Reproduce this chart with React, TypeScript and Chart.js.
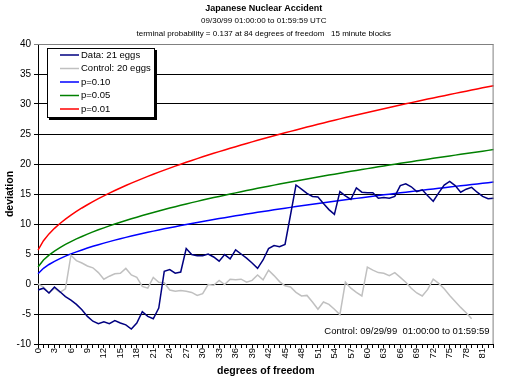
import React, { useEffect, useRef } from 'react';
import { Chart, registerables } from 'chart.js';

Chart.register(...registerables);

const TITLE = 'Japanese Nuclear Accident';
const SUBTITLE_1 = '09/30/99 01:00:00 to 01:59:59 UTC';
const SUBTITLE_2 = 'terminal probability = 0.137 at 84 degrees of freedom   15 minute blocks';
const X_TITLE = 'degrees of freedom';
const Y_TITLE = 'deviation';
const NOTE = 'Control: 09/29/99  01:00:00 to 01:59:59';

const degrees = [
  '0','1','2','3','4','5','6','7','8','9','10','11','12','13','14','15','16','17','18','19',
  '20','21','22','23','24','25','26','27','28','29','30','31','32','33','34','35','36','37','38','39',
  '40','41','42','43','44','45','46','47','48','49','50','51','52','53','54','55','56','57','58','59',
  '60','61','62','63','64','65','66','67','68','69','70','71','72','73','74','75','76','77','78','79',
  '80','81','82','83',
];

const xTickLabels = ['0','3','6','9','12','15','18','21','24','27','30','33','36','39','42','45','48','51','54','57','60','63','66','69','72','75','78','81'];

const dataSeries = [
  -1.0, -0.7, -1.5, -0.5, -1.3, -2.1, -2.7, -3.4, -4.3, -5.4,
  -6.2, -6.6, -6.3, -6.6, -6.1, -6.5, -6.8, -7.5, -6.5, -4.6,
  -5.4, -5.8, -4.0, 2.1, 2.4, 1.8, 2.0, 5.9, 4.9, 4.7,
  4.7, 5.0, 4.5, 3.8, 4.9, 4.2, 5.7, 5.0, 4.3, 3.5,
  2.6, 4.0, 5.9, 6.4, 6.2, 6.6, 11.5, 16.5, 15.8, 15.1,
  14.6, 14.5, 13.4, 12.4, 11.6, 15.4, 14.7, 14.1, 16.0, 15.3,
  15.2, 15.2, 14.3, 14.4, 14.3, 14.6, 16.4, 16.7, 16.2, 15.4,
  15.7, 14.7, 13.8, 15.2, 16.5, 17.1, 16.4, 15.3, 15.8, 16.1,
  15.3, 14.6, 14.2, 14.3,
];

const controlSeries = [
  0.0, -0.5, -1.5, -0.7, -1.4, -0.8, 4.8, 3.9, 3.5, 3.0,
  2.7, 1.9, 0.8, 1.3, 1.7, 1.8, 2.6, 1.5, 1.1, -0.4,
  -0.7, 1.1, 0.3, 0.2, -1.0, -1.2, -1.1, -1.2, -1.4, -1.9,
  -1.6, -0.1, -0.2, 0.6, -0.1, 0.8, 0.7, 0.8, 0.3, 0.6,
  1.5, 0.7, 2.3, 1.4, 0.4, -0.3, -0.5, -1.4, -2.0, -1.9,
  -3.0, -4.2, -3.0, -3.4, -4.2, -5.1, 0.3, -0.7, -1.4, -2.0,
  2.8, 2.3, 1.9, 1.8, 1.4, 1.9, 1.1, 0.3, -0.7, -1.5,
  -2.0, -0.9, 0.8, 0.1, -0.8, -1.9, -2.9, -3.9, -4.8, -5.8,
  null, null, null, null,
];

const p10 = [
  1.71, 2.61, 3.25, 3.78, 4.24, 4.65, 5.02, 5.36, 5.68, 5.99,
  6.28, 6.55, 6.81, 7.06, 7.31, 7.54, 7.77, 7.99, 8.20, 8.41,
  8.62, 8.81, 9.01, 9.20, 9.38, 9.56, 9.74, 9.92, 10.09, 10.26,
  10.41, 10.58, 10.74, 10.90, 11.05, 11.21, 11.36, 11.51, 11.65, 11.80,
  11.94, 12.08, 12.22, 12.36, 12.50, 12.63, 12.77, 12.90, 13.03, 13.16,
  13.29, 13.42, 13.54, 13.67, 13.79, 13.91, 14.03, 14.16, 14.27, 14.39,
  14.51, 14.63, 14.74, 14.86, 14.97, 15.08, 15.19, 15.30, 15.41, 15.52,
  15.63, 15.74, 15.85, 15.95, 16.06, 16.16, 16.27, 16.37, 16.47, 16.57,
  16.68, 16.78, 16.88, 16.98,
];

const p05 = [
  2.84, 3.99, 4.82, 5.49, 6.07, 6.59, 7.07, 7.51, 7.92, 8.31,
  8.68, 9.03, 9.36, 9.69, 10.00, 10.30, 10.59, 10.87, 11.14, 11.41,
  11.67, 11.92, 12.17, 12.42, 12.65, 12.89, 13.11, 13.34, 13.56, 13.77,
  13.99, 14.20, 14.40, 14.60, 14.80, 15.00, 15.19, 15.38, 15.57, 15.76,
  15.94, 16.12, 16.30, 16.48, 16.66, 16.83, 17.00, 17.17, 17.34, 17.51,
  17.67, 17.83, 17.99, 18.15, 18.31, 18.47, 18.62, 18.78, 18.93, 19.08,
  19.23, 19.38, 19.53, 19.68, 19.82, 19.97, 20.11, 20.25, 20.39, 20.53,
  20.67, 20.81, 20.95, 21.08, 21.22, 21.35, 21.48, 21.62, 21.75, 21.88,
  22.01, 22.14, 22.27, 22.40,
];

const p01 = [
  5.64, 7.21, 8.35, 9.28, 10.09, 10.81, 11.48, 12.09, 12.67, 13.21,
  13.73, 14.22, 14.69, 15.14, 15.58, 16.00, 16.41, 16.81, 17.19, 17.57,
  17.93, 18.29, 18.64, 18.98, 19.31, 19.64, 19.96, 20.28, 20.59, 20.89,
  21.20, 21.50, 21.78, 22.06, 22.34, 22.62, 22.89, 23.16, 23.43, 23.69,
  23.95, 24.21, 24.46, 24.71, 24.96, 25.20, 25.44, 25.68, 25.92, 26.15,
  26.39, 26.62, 26.85, 27.07, 27.29, 27.52, 27.74, 27.95, 28.17, 28.38,
  28.59, 28.80, 29.01, 29.22, 29.42, 29.63, 29.83, 30.03, 30.23, 30.43,
  30.62, 30.82, 31.01, 31.20, 31.39, 31.58, 31.77, 31.96, 32.14, 32.33,
  32.51, 32.69, 32.87, 33.05,
];

const FONT = 'Arial, "Liberation Sans", sans-serif';

const overlayPlugin = {
  id: 'overlay',
  afterDraw(chart: any) {
    const { ctx, chartArea } = chart;
    const cx = (chartArea.left + chartArea.right) / 2 - 2;
    ctx.save();
    ctx.fillStyle = '#000';
    ctx.textAlign = 'center';
    ctx.textBaseline = 'middle';
    ctx.font = `bold 9px ${FONT}`;
    ctx.fillText(TITLE, cx, 9);
    ctx.font = `8px ${FONT}`;
    ctx.fillText(SUBTITLE_1, cx, 21);
    ctx.fillText(SUBTITLE_2, cx, 34);

    ctx.font = `bold 10.5px ${FONT}`;
    ctx.fillText(X_TITLE, cx + 2, 371);
    ctx.save();
    ctx.translate(10, (chartArea.top + chartArea.bottom) / 2);
    ctx.rotate(-Math.PI / 2);
    ctx.fillText(Y_TITLE, 0, 0);
    ctx.restore();

    // plot border (top/right)
    ctx.strokeStyle = '#808080';
    ctx.lineWidth = 1;
    ctx.beginPath();
    ctx.moveTo(chartArea.left, chartArea.top + 0.5);
    ctx.lineTo(chartArea.right - 0.5, chartArea.top + 0.5);
    ctx.lineTo(chartArea.right - 0.5, chartArea.bottom);
    ctx.stroke();

    // note
    ctx.textAlign = 'right';
    ctx.font = `9.5px ${FONT}`;
    ctx.fillText(NOTE, chartArea.right - 4, chartArea.bottom - 13);

    // legend
    const lx = 47, ly = 48, lw = 108, lh = 70;
    ctx.fillStyle = '#000';
    ctx.fillRect(lx + 2, ly + 2, lw, lh);
    ctx.fillStyle = '#fff';
    ctx.fillRect(lx, ly, lw, lh);
    ctx.strokeStyle = '#000';
    ctx.strokeRect(lx + 0.5, ly + 0.5, lw - 1, lh - 1);
    ctx.textAlign = 'left';
    ctx.font = `9.5px ${FONT}`;
    chart.data.datasets.forEach((ds: any, i: number) => {
      const y = ly + 7 + i * 13.5;
      ctx.strokeStyle = ds.borderColor;
      ctx.lineWidth = 1.5;
      ctx.beginPath();
      ctx.moveTo(60, y);
      ctx.lineTo(79, y);
      ctx.stroke();
      ctx.fillStyle = '#000';
      ctx.fillText(ds.label, 81, y);
    });
    ctx.restore();
  },
};

export default function App() {
  const ref = useRef<HTMLCanvasElement>(null);
  useEffect(() => {
    if (!ref.current) return;
    const mk = (label: string, data: any[], color: string) => ({
      label,
      data,
      borderColor: color,
      backgroundColor: color,
      borderWidth: 1.5,
      pointRadius: 0,
      tension: 0,
      fill: false,
    });
    const chart = new Chart(ref.current, {
      type: 'line',
      data: {
        labels: degrees,
        datasets: [
          mk('Data: 21 eggs', dataSeries, '#000080'),
          mk('Control: 20 eggs', controlSeries, '#c0c0c0'),
          mk('p=0.10', p10, '#0000ff'),
          mk('p=0.05', p05, '#008000'),
          mk('p=0.01', p01, '#ff0000'),
        ],
      },
      options: {
        responsive: false,
        animation: false,
        devicePixelRatio: 1,
        layout: { padding: { top: 44, right: 2, left: 0, bottom: 0 } },
        plugins: { legend: { display: false }, title: { display: false }, tooltip: { enabled: false } },
        scales: {
          x: {
            type: 'category',
            offset: false,
            grid: { display: true, drawOnChartArea: false, drawTicks: true, tickLength: 4, color: '#000' },
            border: { color: '#000', width: 1 },
            ticks: {
              autoSkip: false,
              minRotation: 90,
              maxRotation: 90,
              padding: 0,
              color: '#000',
              font: { family: FONT, size: 9.5 },
              callback: (_v: any, idx: number) => (xTickLabels.includes(degrees[idx]) ? degrees[idx] : ''),
            },
            afterFit: (s: any) => { s.height = 35; },
          },
          y: {
            min: -10,
            max: 40,
            grid: {
              color: (c: any) => (c.tick && c.tick.value === 40 ? '#808080' : '#000'),
              tickLength: 4,
              drawTicks: true,
            },
            border: { color: '#000', width: 1 },
            ticks: { stepSize: 5, padding: 3, color: '#000', font: { family: FONT, size: 10 } },
            afterFit: (s: any) => { s.width = 38; },
          },
        },
      },
      plugins: [overlayPlugin],
    } as any);
    return () => chart.destroy();
  }, []);
  return (
    <div style={{ position: 'fixed', left: 0, top: 0, width: 505, height: 379, background: '#fff' }}>
      <canvas ref={ref} width={505} height={379} style={{ display: 'block', width: 505, height: 379 }} />
    </div>
  );
}
